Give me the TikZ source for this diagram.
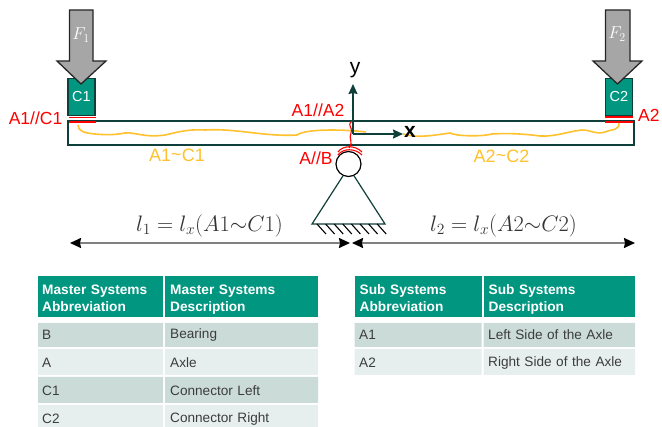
\documentclass[tikz,border=0pt]{standalone}
\usepackage{fontspec}
\setmainfont{Liberation Sans}
\usepackage{xcolor}
\definecolor{cTeal}{HTML}{009680}
\definecolor{cDark}{HTML}{0F3F3A}
\definecolor{cRowA}{HTML}{CBDCD8}
\definecolor{cRowB}{HTML}{E6EFED}
\definecolor{cForce}{HTML}{A6A6A6}
\definecolor{cYellow}{HTML}{FFC12E}
\definecolor{cText}{HTML}{3C3C3C}
\usetikzlibrary{arrows.meta,calc}
\newcommand{\headcell}[3]{\rule{0pt}{17pt}\hspace*{#1}#2\\\hspace*{#1}#3\strut}
\tikzset{
  node-conn/.style={draw=cDark,line width=1.2pt,fill=cTeal,text=white,inner sep=0pt,
    minimum width=27pt,minimum height=37pt,font=\fontsize{14.5}{14.5}\selectfont},
  node-beam/.style={draw=cDark,line width=1.2pt,inner sep=0pt,
    minimum width=566pt,minimum height=24pt},
  node-pin/.style={draw=black,line width=1.2pt,circle,fill=white,inner sep=0pt,minimum size=25pt},
  node-red/.style={text=red,inner sep=0pt,font=\fontsize{17.5}{17.5}\selectfont},
  node-yellow/.style={text=cYellow,inner sep=0pt,font=\fontsize{18}{18}\selectfont},
  node-force/.style={text=white,inner sep=0pt,font=\fontsize{17}{17}\selectfont},
  node-len/.style={text=black!80,inner sep=0pt,font=\fontsize{22}{22}\selectfont},
  node-head/.style={fill=cTeal,text=white,inner sep=0pt,anchor=north west,align=left,
    text width=#1,minimum height=41pt,
    font=\fontsize{13.7}{17}\selectfont\bfseries},
  node-row/.style={inner sep=0pt,text=cText,anchor=west,align=left,
    text width=#1,font=\fontsize{13.6}{16}\selectfont},
  force/.style={draw=black!85,line width=1.3pt,fill=cForce,line join=miter},
  arrow-axis/.style={-{Stealth[length=10pt,width=9pt,inset=1pt]},line width=1.5pt,draw=cDark},
  arrow-dim/.style={{Stealth[length=11pt,width=10pt,inset=1pt,black]}-{Stealth[length=11pt,width=10pt,inset=1pt,black]},
    line width=1.6pt,draw=black!50},
  line-red/.style={draw=red,line width=1.8pt},
  line-mark/.style={draw=red,line width=1.1pt},
  line-yellow/.style={draw=cYellow,line width=1.6pt},
  hatch/.style={draw=black,line width=1.1pt},
}
\begin{document}
\begin{tikzpicture}[x=1pt,y=-1pt]
  \useasboundingbox (0,0) rectangle (662,427);

  % beam and connectors
  \node[node-beam] (beam) at (351,133) {};
  \node[node-conn] (c1) at (81.5,97) {C1};
  \node[node-conn] (c2) at (619,97) {C2};

  % force arrows
  \draw[force] (69.5,10) -- (93,10) -- (93,61) -- (106,61) -- (81,84) -- (57,61) -- (69.5,61) -- cycle;
  \draw[force] (605.5,10) -- (630,10) -- (630,61) -- (642,61) -- (617.5,84) -- (593,61) -- (605.5,61) -- cycle;
  \node[node-force] (f1) at (81,35) {$F_1$};
  \node[node-force] (f2) at (617,34) {$F_2$};

  % interfaces
  \draw[line-red] (69,117.5) -- (96,117.5) (69,121.7) -- (96,121.7);
  \draw[line-red] (605,117) -- (633,117) (605,121.7) -- (633,121.7);
  \node[node-red] (lab-a1c1) at (35.5,118) {A1//C1};
  \node[node-red,anchor=west] (lab-a2c2) at (638,115) {A2};
  \node[node-red] (lab-a1a2) at (318,110) {A1//A2};
  \node[node-red] (lab-ab) at (316,158) {A//B};

  % internal paths
  \draw[line-yellow] (78,125) .. controls (78,131) and (84,133) .. (95,134)
    .. controls (105,135) and (115,135) .. (125,133)
    .. controls (135,132) and (145,138) .. (165,135)
    .. controls (175,133) and (185,129) .. (205,130)
    .. controls (235,128) and (265,137) .. (297,135)
    .. controls (305,129) and (340,129) .. (366,132);
  \draw[line-yellow] (403,134) .. controls (415,138) and (430,136) .. (450,133)
    .. controls (455,136) and (480,137) .. (492,134)
    .. controls (510,133) and (525,134) .. (540,136)
    .. controls (555,137) and (570,131) .. (582,130)
    .. controls (592,130) and (595,135) .. (605,132)
    .. controls (612,129) and (619,131) .. (619,123);
  \node[node-yellow] (lab-a1) at (177,155) {A1\raisebox{1pt}{\textasciitilde}C1};
  \node[node-yellow] (lab-a2) at (501.5,156) {A2\raisebox{1pt}{\textasciitilde}C2};

  % pin support
  \coordinate (tri-l) at (312,224);
  \coordinate (tri-r) at (385,224);
  \node[node-pin] (pin) at (348.5,164) {};
  \draw[cDark,line width=1.2pt] (pin.-115) -- (tri-l) -- (tri-r) -- (pin.-65);
  \foreach \x in {317,325.6,...,378}
    \draw[hatch] (\x,224) -- (\x+9,234);

  % red contact marks
  \draw[line-mark] (352,121) .. controls (346,126) and (354,128) .. (351,133)
    .. controls (348,138) and (354,142) .. (349,148);
  \draw[line-mark] (338,152) .. controls (343,145) and (355,145) .. (362,152);
  \draw[line-mark] (338,155) .. controls (343,148) and (355,148) .. (362,155);

  % axes
  \coordinate (origin) at (353,134);
  \coordinate (y-end) at (353,84);
  \coordinate (x-end) at (403,134);
  \draw[arrow-axis] (origin) -- (y-end);
  \draw[arrow-axis] (origin) -- (x-end);
  \node[inner sep=0pt,font=\fontsize{21}{21}\selectfont] (lab-y) at (355,70) {y};
  \node[inner sep=0pt,font=\fontsize{21}{21}\selectfont\bfseries] (lab-x) at (410,132) {x};

  % lengths
  \coordinate (dim-l) at (70,243);
  \coordinate (dim-m) at (350,243);
  \coordinate (dim-n) at (352,243);
  \coordinate (dim-r) at (635,243);
  \draw[arrow-dim] (dim-l) -- (dim-m);
  \draw[arrow-dim] (dim-n) -- (dim-r);
  \node[node-len] (lab-l1) at (209.5,226) {\scalebox{1.08}{$l_1=l_x(A1{\sim}C1)$}};
  \node[node-len] (lab-l2) at (503.5,226) {\scalebox{1.08}{$l_2=l_x(A2{\sim}C2)$}};

  % master systems table
  \node[node-head=125pt] (h1) at (38,276) {\headcell{4pt}{Master Systems}{Abbreviation}};
  \node[node-head=153pt] (h2) at (165,276) {\headcell{5pt}{Master Systems}{Description}};
  \fill[cRowA] (38,323) rectangle (163,347) (165,323) rectangle (318,347);
  \fill[cRowB] (38,349) rectangle (163,375) (165,349) rectangle (318,375);
  \fill[cRowA] (38,377) rectangle (163,403) (165,377) rectangle (318,403);
  \fill[cRowB] (38,405) rectangle (163,427) (165,405) rectangle (318,427);
  \node[node-row=115pt] (m-b) at (42,335) {B};
  \node[node-row=145pt] (m-bd) at (170,335) {Bearing};
  \node[node-row=115pt] (m-a) at (42,363) {A};
  \node[node-row=145pt] (m-ad) at (170,363) {Axle};
  \node[node-row=115pt] (m-c1) at (42,391) {C1};
  \node[node-row=145pt] (m-c1d) at (170,391) {Connector Left};
  \node[node-row=115pt] (m-c2) at (42,419) {C2};
  \node[node-row=145pt] (m-c2d) at (170,419) {Connector Right};

  % sub systems table
  \node[node-head=127pt] (h3) at (354.5,276) {\headcell{5pt}{Sub Systems}{Abbreviation}};
  \node[node-head=151.5pt] (h4) at (483.5,276) {\headcell{5pt}{Sub Systems}{Description}};
  \fill[cRowA] (354.5,323) rectangle (481.5,347) (483.5,323) rectangle (635,347);
  \fill[cRowB] (354.5,349) rectangle (481.5,375) (483.5,349) rectangle (635,375);
  \node[node-row=115pt] (s-a1) at (359,335) {A1};
  \node[node-row=145pt] (s-a1d) at (488,335) {Left Side of the Axle};
  \node[node-row=115pt] (s-a2) at (359,363) {A2};
  \node[node-row=145pt] (s-a2d) at (488,363) {Right Side of the Axle};
\end{tikzpicture}
\end{document}
